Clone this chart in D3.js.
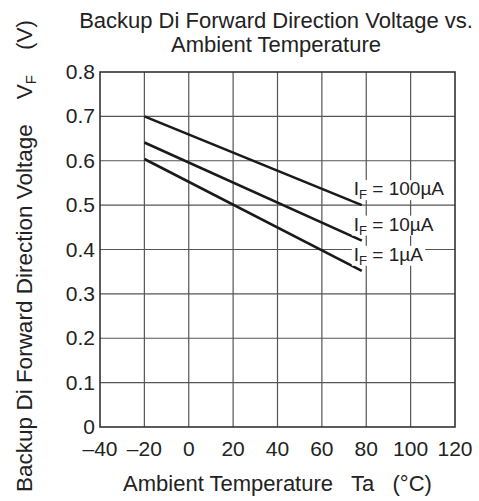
<!DOCTYPE html>
<html>
<head>
<meta charset="utf-8">
<script src="https://cdn.jsdelivr.net/npm/d3@7"></script>
<style>
  body { margin: 0; background: #fff; }
  svg { font-family: "Liberation Sans", Arial, sans-serif; }
  .tick-label { font-size: 21px; fill: #222; }
</style>
</head>
<body>
<svg id="chart" width="479" height="501"></svg>
<script>
// temperatures (°C) at start / end of each curve
const temps = [-20, 78];
const currents = ["100", "10", "1"];
const vf100 = [0.70, 0.50];
const vf10 = [0.641, 0.42];
const vf1 = [0.604, 0.352];
const xTicks = [-40, -20, 0, 20, 40, 60, 80, 100, 120];
const yTicks = [0, 0.1, 0.2, 0.3, 0.4, 0.5, 0.6, 0.7, 0.8];

const seriesValues = [vf100, vf10, vf1];

const svg = d3.select("#chart"),
    margin = { top: 72, right: 24, bottom: 74, left: 100 },
    width = 479,
    height = 501;

const x = d3.scaleLinear().domain([-40, 120]).range([margin.left, width - margin.right]);
const y = d3.scaleLinear().domain([0, 0.8]).range([height - margin.bottom, margin.top]);

// grid
svg.append("g")
    .selectAll("line")
    .data(xTicks.slice(1, -1))
    .join("line")
    .attr("x1", d => x(d)).attr("x2", d => x(d))
    .attr("y1", y(0)).attr("y2", y(0.8))
    .attr("stroke", "#555").attr("stroke-width", 1.2);

svg.append("g")
    .selectAll("line")
    .data(yTicks.slice(1, -1))
    .join("line")
    .attr("x1", x(-40)).attr("x2", x(120))
    .attr("y1", d => y(d)).attr("y2", d => y(d))
    .attr("stroke", "#555").attr("stroke-width", 1.2);

// curves
const line = d3.line().x(d => x(d.t)).y(d => y(d.v));
seriesValues.forEach(vals => {
    svg.append("path")
        .attr("d", line(temps.map((t, i) => ({ t, v: vals[i] }))))
        .attr("fill", "none")
        .attr("stroke", "#1a1a1a")
        .attr("stroke-width", 2.6);
});

// curve labels with white backing
seriesValues.forEach((vals, i) => {
    const g = svg.append("g");
    const t = g.append("text")
        .attr("x", x(temps[1]) - 8)
        .attr("y", y(vals[1]) - 10)
        .attr("font-size", 19)
        .attr("fill", "#222");
    t.append("tspan").text("I");
    t.append("tspan").attr("font-size", 13).attr("dy", 4).text("F");
    t.append("tspan").attr("dy", -4).text(` = ${currents[i]}\u00b5A`);
    const bb = t.node().getBBox();
    g.insert("rect", "text")
        .attr("x", bb.x - 2).attr("y", bb.y + 2)
        .attr("width", bb.width + 4).attr("height", bb.height - 4)
        .attr("fill", "#fff");
});

// frame
svg.append("rect")
    .attr("x", x(-40)).attr("y", y(0.8))
    .attr("width", x(120) - x(-40)).attr("height", y(0) - y(0.8))
    .attr("fill", "none").attr("stroke", "#333").attr("stroke-width", 1.6);

// tick labels
svg.append("g")
    .selectAll("text")
    .data(xTicks)
    .join("text")
    .attr("class", "tick-label")
    .attr("x", d => x(d))
    .attr("y", y(0) + 29)
    .attr("text-anchor", "middle")
    .text(d => d < 0 ? "\u2013" + Math.abs(d) : d);

svg.append("g")
    .selectAll("text")
    .data(yTicks)
    .join("text")
    .attr("class", "tick-label")
    .attr("x", x(-40) - 5)
    .attr("y", d => y(d) + 7)
    .attr("text-anchor", "end")
    .text(d => d === 0 ? "0" : d.toFixed(1));

// title
const title = svg.append("text")
    .attr("text-anchor", "middle")
    .attr("font-size", 22)
    .attr("fill", "#222");
title.append("tspan").attr("x", 276).attr("y", 28).text("Backup Di Forward Direction Voltage vs.");
title.append("tspan").attr("x", 276).attr("y", 52).text("Ambient Temperature");

// x axis title
svg.append("text")
    .attr("x", (x(-40) + x(120)) / 2)
    .attr("y", 491)
    .attr("text-anchor", "middle")
    .attr("font-size", 22)
    .attr("fill", "#222")
    .attr("xml:space", "preserve")
    .text("Ambient Temperature   Ta   (\u00b0C)");

// y axis title
const yt = svg.append("text")
    .attr("transform", `translate(32,256) rotate(-90)`)
    .attr("text-anchor", "middle")
    .attr("font-size", 22.5)
    .attr("fill", "#222")
    .attr("xml:space", "preserve");
yt.append("tspan").text("Backup Di Forward Direction Voltage    V");
yt.append("tspan").attr("font-size", 15).attr("dy", 4).text("F");
yt.append("tspan").attr("dy", -4).text("    (V)");
</script>
</body>
</html>
